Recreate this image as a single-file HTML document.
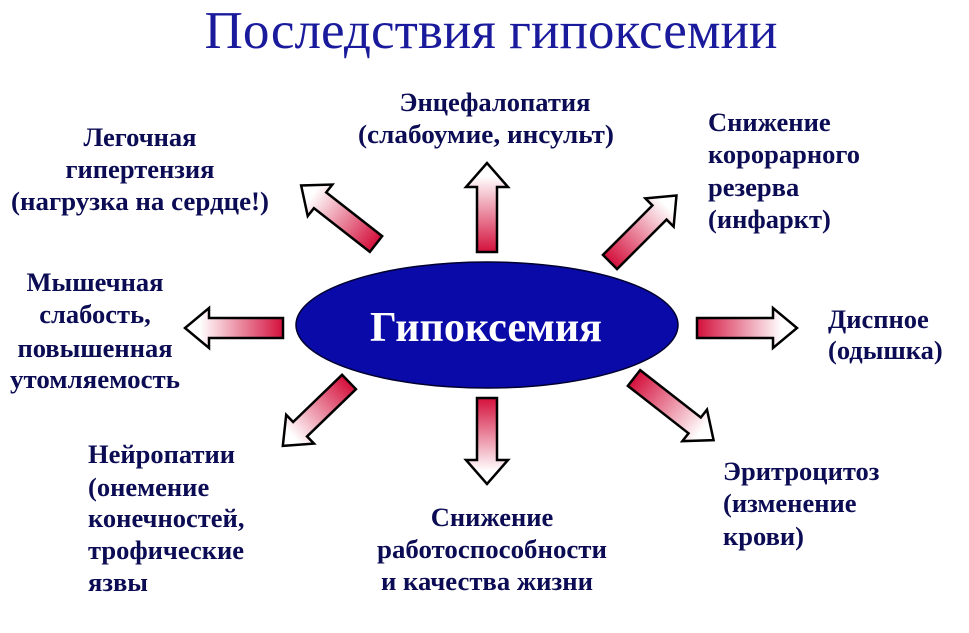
<!DOCTYPE html>
<html><head><meta charset="utf-8"><style>
html,body{margin:0;padding:0;background:#fff;}
svg{display:block;}
text{font-family:"Liberation Serif","Noto Serif CJK SC",serif;}
.l{font-size:26.5px;font-weight:bold;fill:#0c0c55;}
</style></head><body>
<svg width="969" height="633" viewBox="0 0 969 633" xmlns="http://www.w3.org/2000/svg">
<defs>
<linearGradient id="g" x1="0" y1="0" x2="1" y2="0">
<stop offset="0" stop-color="#d4103c"/>
<stop offset="0.85" stop-color="#ffffff"/>
<stop offset="1" stop-color="#ffffff"/>
</linearGradient>
</defs>
<text x="491" y="48" text-anchor="middle" font-size="53" fill="#1a1a9c" textLength="573" lengthAdjust="spacingAndGlyphs">Последствия гипоксемии</text>

<ellipse cx="487" cy="325" rx="191" ry="63" fill="#0a0aa8" stroke="#000030" stroke-width="1.5"/>
<text x="486" y="341" text-anchor="middle" font-size="42" font-weight="bold" fill="#fff" textLength="232" lengthAdjust="spacingAndGlyphs">Гипоксемия</text>

<g stroke="#000" stroke-width="2.5" stroke-linejoin="miter" fill="url(#g)">
<polygon transform="translate(487,252) rotate(-90)" points="0,-10 65,-10 65,-21 89,0 65,21 65,10 0,10"/>
<polygon transform="translate(487,398) rotate(90)" points="0,-10 62,-10 62,-21 86,0 62,21 62,10 0,10"/>
<polygon transform="translate(283,328) rotate(180)" points="0,-10 74,-10 74,-20 98,0 74,20 74,10 0,10"/>
<polygon transform="translate(697,328) rotate(0)" points="0,-10 76,-10 76,-20 100,0 76,20 76,10 0,10"/>
<polygon transform="translate(376,244) rotate(-142)" points="0,-10 71,-10 71,-20 95,0 71,20 71,10 0,10"/>
<polygon transform="translate(610,262) rotate(-45)" points="0,-10 70,-10 70,-20 94,0 70,20 70,10 0,10"/>
<polygon transform="translate(349,382) rotate(136)" points="0,-10 68,-10 68,-20 92,0 68,20 68,10 0,10"/>
<polygon transform="translate(634,378) rotate(38)" points="0,-10 77,-10 77,-20 101,0 77,20 77,10 0,10"/>
</g>

<g class="l" text-anchor="middle">
<text x="140" y="146" class="l">Легочная</text>
<text x="140" y="178" class="l">гипертензия</text>
<text x="140" y="210" class="l" textLength="258" lengthAdjust="spacingAndGlyphs">(нагрузка на сердце!)</text>
<text x="495" y="111" class="l">Энцефалопатия</text>
<text x="486" y="143" class="l" textLength="256" lengthAdjust="spacingAndGlyphs">(слабоумие, инсульт)</text>
<text x="95" y="291" class="l">Мышечная</text>
<text x="95" y="323" class="l">слабость,</text>
<text x="95" y="357" class="l">повышенная</text>
<text x="95" y="388" class="l" textLength="170" lengthAdjust="spacingAndGlyphs">утомляемость</text>
<text x="492" y="526" class="l">Снижение</text>
<text x="492" y="558" class="l" textLength="230" lengthAdjust="spacingAndGlyphs">работоспособности</text>
<text x="487" y="590" class="l" textLength="212" lengthAdjust="spacingAndGlyphs">и качества жизни</text>
</g>
<g class="l">
<text x="708" y="131" class="l">Снижение</text>
<text x="708" y="163" class="l">корорарного</text>
<text x="708" y="196" class="l">резерва</text>
<text x="708" y="228" class="l">(инфаркт)</text>
<text x="828" y="328" class="l">Диспное</text>
<text x="828" y="359" class="l">(одышка)</text>
<text x="88" y="463" class="l">Нейропатии</text>
<text x="88" y="496" class="l">(онемение</text>
<text x="88" y="527" class="l">конечностей,</text>
<text x="88" y="559" class="l">трофические</text>
<text x="88" y="591" class="l">язвы</text>
<text x="723" y="480" class="l">Эритроцитоз</text>
<text x="723" y="512" class="l">(изменение</text>
<text x="723" y="545" class="l">крови)</text>
</g>
</svg>
</body></html>
